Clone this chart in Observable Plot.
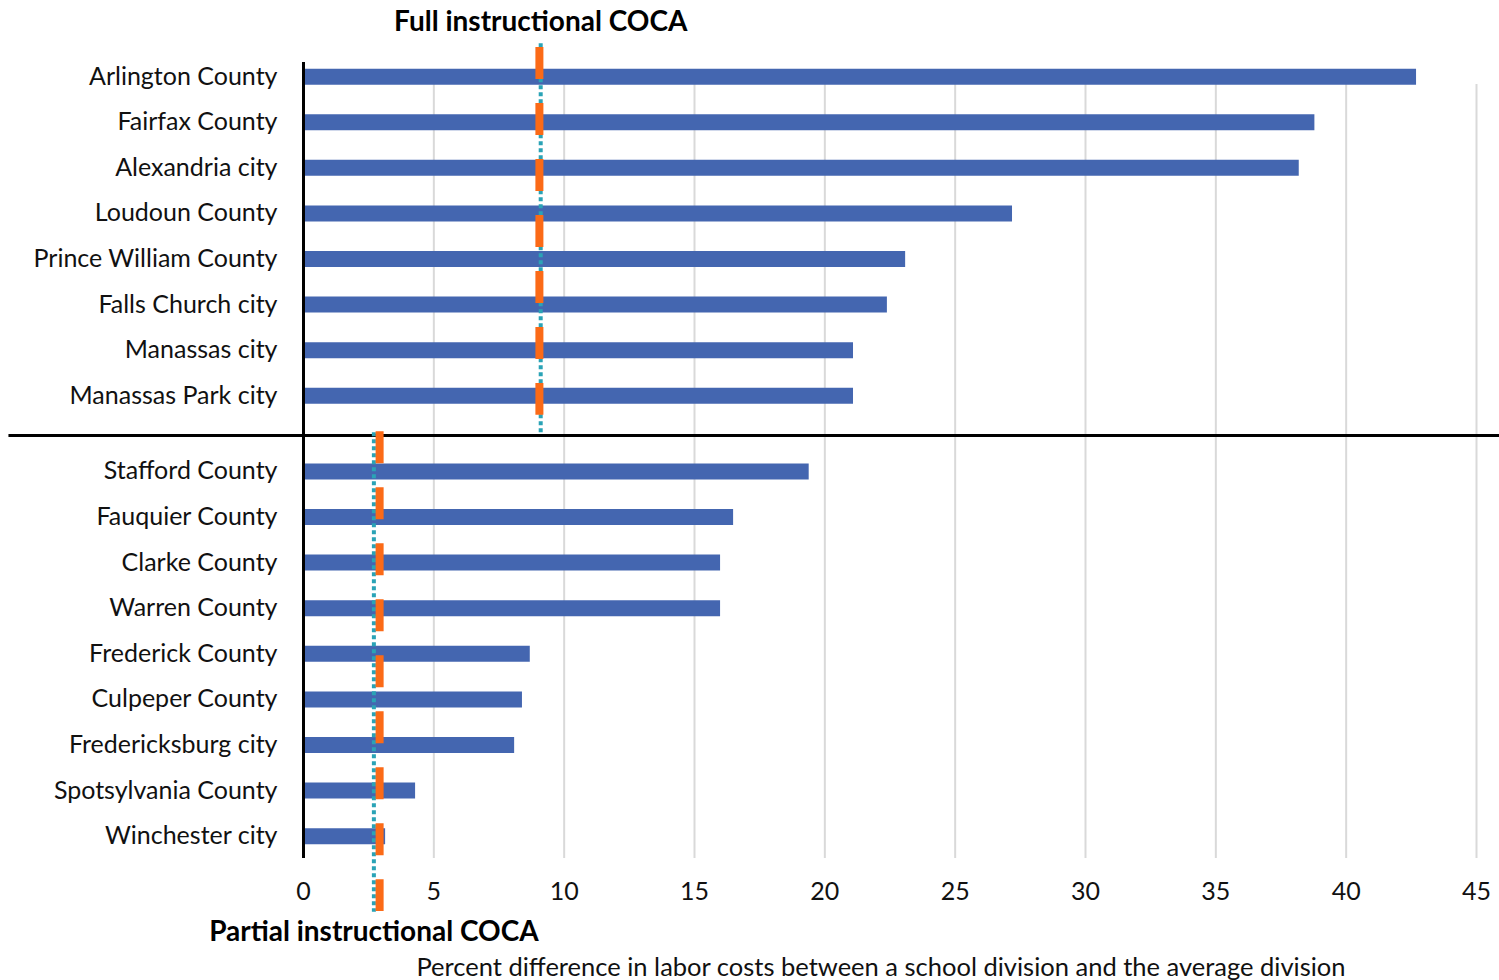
<!DOCTYPE html>
<html>
<head>
<meta charset="utf-8">
<script src="https://cdn.jsdelivr.net/npm/d3@7"></script>
<script src="https://cdn.jsdelivr.net/npm/@observablehq/plot@0.6"></script>
<style>
  html, body { margin: 0; padding: 0; background: #fff; }
  #chart svg { display: block; }
</style>
</head>
<body>
<div id="chart"></div>
<script>
// ---- Data ----
const fullDivisions = ["Arlington County", "Fairfax County", "Alexandria city", "Loudoun County",
  "Prince William County", "Falls Church city", "Manassas city", "Manassas Park city"];
const fullValues = [42.7, 38.8, 38.2, 27.2, 23.1, 22.4, 21.1, 21.1];

const partialDivisions = ["Stafford County", "Fauquier County", "Clarke County", "Warren County",
  "Frederick County", "Culpeper County", "Fredericksburg city", "Spotsylvania County", "Winchester city"];
const partialValues = [19.4, 16.5, 16.0, 16.0, 8.7, 8.4, 8.1, 4.3, 3.15];

const fullCOCA = 9.1;        // teal dotted line
const partialCOCA = 2.7;
const fullMarker = 9.05;     // orange dashed marker
const partialMarker = 2.92;

const xTicks = [0, 5, 10, 15, 20, 25, 30, 35, 40, 45];
const fullTitle = "Full instructional COCA";
const partialTitle = "Partial instructional COCA";
const xTitle = "Percent difference in labor costs between a school division and the average division";

// ---- Layout (row positions computed, not data) ----
const groupGap = 0.66;
const rows = [
  ...fullDivisions.map((name, i) => ({name, value: fullValues[i], pos: i})),
  ...partialDivisions.map((name, j) => ({name, value: partialValues[j], pos: fullDivisions.length + groupGap + j}))
];
const lastFull = fullDivisions.length - 1;
const lastPartial = rows[rows.length - 1].pos;
const divider = lastFull + 0.87;
const yDomain = [-0.31, lastPartial + 0.49];

const font = "Lato, 'Open Sans', sans-serif";
const blue = "#4466b0";
const teal = "#2aa3b6";
const orange = "#fb6a17";

const chart = Plot.plot({
  width: 1499,
  height: 980,
  marginLeft: 303,
  marginRight: 23,
  marginTop: 62,
  marginBottom: 122,
  style: {fontFamily: font, fontSize: "25px", color: "#111", background: "#fff", overflow: "visible"},
  x: {domain: [0, 45], axis: null},
  y: {domain: yDomain, reverse: true, axis: null},
  marks: [
    // gridlines
    Plot.ruleX(xTicks.slice(1), {y1: 0.17, y2: yDomain[1], stroke: "#d9d9d9", strokeWidth: 2}),
    // bars
    Plot.ruleY(rows, {y: "pos", x1: 0, x2: "value", stroke: blue, strokeWidth: 16}),
    // vertical axis line
    Plot.ruleX([0], {stroke: "#000", strokeWidth: 3}),
    // group divider
    Plot.ruleY([divider], {x1: -11.3, x2: 45.9, stroke: "#000", strokeWidth: 3}),
    // COCA teal dotted lines
    Plot.ruleX([fullCOCA], {y1: -0.72, y2: divider - 0.04, stroke: teal, strokeWidth: 4, strokeDasharray: "4,3"}),
    Plot.ruleX([partialCOCA], {y1: divider - 0.06, y2: lastPartial + 1.67, stroke: teal, strokeWidth: 4, strokeDasharray: "4,3"}),
    // orange dashed markers
    Plot.ruleX([fullMarker], {y1: -0.64, y2: lastFull + 0.43, stroke: orange, strokeWidth: 8, strokeDasharray: "32,24"}),
    Plot.ruleX([partialMarker], {y1: divider - 0.08, y2: lastPartial + 1.65, stroke: orange, strokeWidth: 8, strokeDasharray: "32,24"}),
    // category labels
    Plot.text(rows, {y: "pos", text: "name", frameAnchor: "left", textAnchor: "end", dx: -26, fontSize: 25, fill: "#111"}),
    // x tick labels
    Plot.text(xTicks, {x: d => d, text: d => String(d), frameAnchor: "bottom", lineAnchor: "middle", dy: 33, fontSize: 25, fill: "#111"}),
    // titles
    Plot.text([fullTitle], {x: fullCOCA, text: d => d, frameAnchor: "top", lineAnchor: "middle", dy: -40, fontSize: 28, fontWeight: "bold", fill: "#000"}),
    Plot.text([partialTitle], {x: partialCOCA, text: d => d, frameAnchor: "bottom", lineAnchor: "middle", dy: 74, fontSize: 28, fontWeight: "bold", fill: "#000"}),
    Plot.text([xTitle], {text: d => d, frameAnchor: "bottom", lineAnchor: "middle", dy: 109, dx: -9, fontSize: 25.5, fill: "#111"})
  ]
});
document.getElementById("chart").appendChild(chart);
</script>
</body>
</html>
